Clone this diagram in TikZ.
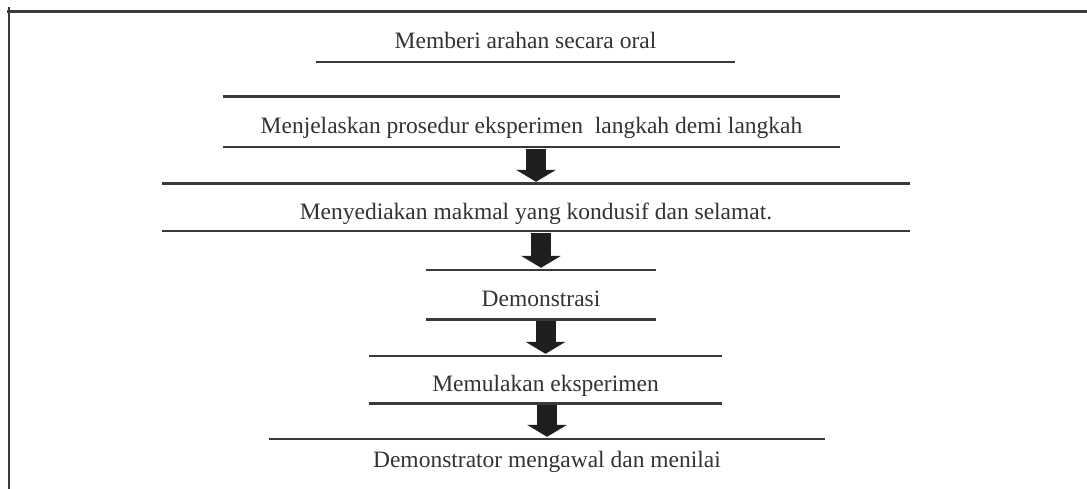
\documentclass[tikz,border=0pt]{standalone}
\usepackage{fontspec}
\setmainfont{Liberation Serif}
\usetikzlibrary{arrows.meta}
\definecolor{abu}{HTML}{3A3A3A}
\definecolor{teks}{HTML}{333333}

\tikzstyle{tahap}=[rectangle,inner sep=0pt,text=teks,text height=28pt,text depth=4pt,font=\fontsize{23.5pt}{28pt}\selectfont]
\tikzstyle{garis}=[draw=abu,line width=2.6pt]
\tikzstyle{panah}=[draw=black!88,line width=20pt,shorten <=2pt,shorten >=2pt,-{Triangle[length=12pt,width=40pt,line width=0pt]}]

\begin{document}
\begin{tikzpicture}[x=1pt,y=-1pt]
		\useasboundingbox (0,0) rectangle (1087,489);
		% bingkai
		\draw[abu,line width=3pt] (7,11.5)--(1087,11.5);
		\draw[abu,line width=2pt] (9,7)--(9,489);
		\node[tahap,minimum width=419pt,minimum height=50pt] (arahan) at (525.5,37){Memberi arahan secara oral};
		\node[tahap,minimum width=617pt,minimum height=50pt] (prosedur) at (531.5,122){Menjelaskan prosedur eksperimen\ \ langkah demi langkah};
		\node[tahap,minimum width=748pt,minimum height=47pt] (makmal) at (536,207.5){Menyediakan makmal yang kondusif dan selamat.};
		\node[tahap,minimum width=230pt,minimum height=49pt] (demo) at (541,294.5){Demonstrasi};
		\node[tahap,minimum width=353pt,minimum height=47pt] (mula) at (545.5,379.5){Memulakan eksperimen};
		\node[tahap,minimum width=556pt,minimum height=32pt] (nilai) at (547,455){Demonstrator mengawal dan menilai};
		\draw[garis] (arahan.south west)--(arahan.south east);
		\foreach \n in {prosedur,makmal,demo,mula}
			\draw[garis] (\n.north west)--(\n.north east) (\n.south west)--(\n.south east);
		\draw[garis] (nilai.north west)--(nilai.north east);
		\draw[panah] (makmal.north |- prosedur.south)--(makmal.north);
		\draw[panah] (demo.north |- makmal.south)--(demo.north);
		\draw[panah] (mula.north |- demo.south)--(mula.north);
		\draw[panah] (nilai.north |- mula.south)--(nilai.north);
	\end{tikzpicture}
\end{document}
